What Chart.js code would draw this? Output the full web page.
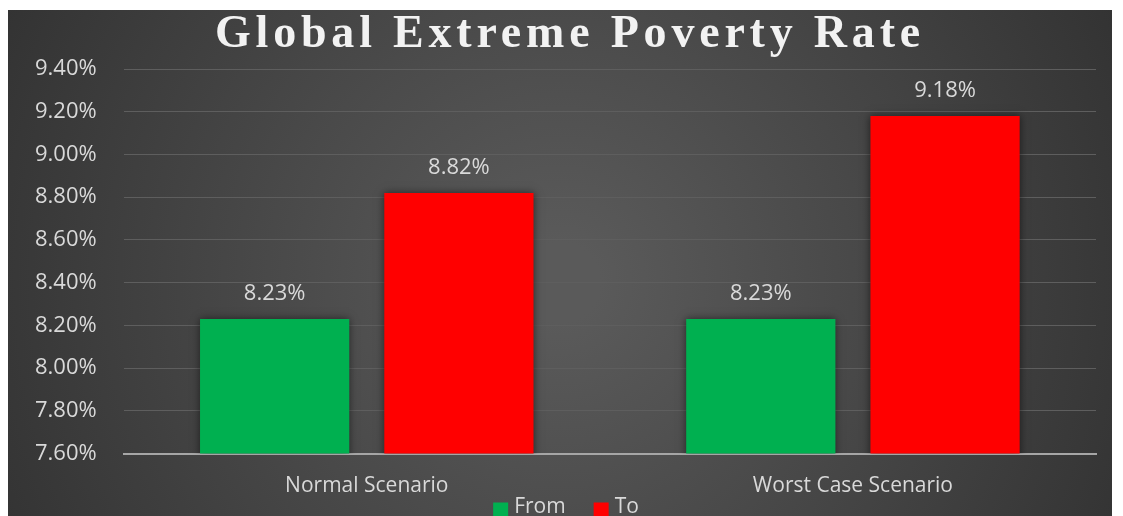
<!DOCTYPE html>
<html>
<head>
<meta charset="utf-8">
<script src="https://cdn.jsdelivr.net/npm/chart.js@4.4.0/dist/chart.umd.min.js"></script>
<style>
  html, body { margin: 0; padding: 0; background: #fff; overflow: hidden; }
  #wrap { position: absolute; left: 8px; top: 10px; width: 1104px; height: 545px; }
</style>
</head>
<body>
<div id="wrap"><canvas id="chart-area"></canvas></div>
<script>
var categories = ['Normal Scenario', 'Worst Case Scenario'];
var fromValues = [8.23, 8.23];
var toValues = [8.82, 9.18];
var seriesNames = ['From', 'To'];
var chartTitle = 'Global Extreme Poverty Rate';

// dark gradient background like the excel theme + spaced out title
var bgPlugin = {
  id: 'bg',
  beforeDraw: function(chart) {
    var ctx = chart.ctx, w = chart.width, h = chart.height;
    var g = ctx.createRadialGradient(w / 2, h / 2, 40, w / 2, h / 2, w * 0.6);
    g.addColorStop(0, '#5a5a5a');
    g.addColorStop(1, '#303030');
    ctx.save();
    ctx.fillStyle = g;
    ctx.fillRect(0, 0, w, h);
    ctx.fillStyle = '#f2f2f2';
    ctx.font = 'bold 46px "Liberation Serif", "DejaVu Serif", serif';
    ctx.letterSpacing = '4.8px';
    ctx.textAlign = 'center';
    ctx.textBaseline = 'alphabetic';
    ctx.fillText(chartTitle, 562, 37);
    ctx.restore();
  }
};

// soft shadow round the bars
var shadowPlugin = {
  id: 'barShadow',
  beforeDatasetsDraw: function(chart) {
    var ctx = chart.ctx;
    ctx.save();
    ctx.shadowColor = 'rgba(0,0,0,0.55)';
    ctx.shadowBlur = 8;
  },
  afterDatasetsDraw: function(chart) {
    chart.ctx.restore();
  }
};

// value labels above the bars
var labelPlugin = {
  id: 'barLabels',
  afterDatasetsDraw: function(chart) {
    var ctx = chart.ctx;
    ctx.save();
    ctx.font = '22px "Open Sans"';
    ctx.fillStyle = '#d9d9d9';
    ctx.textAlign = 'center';
    ctx.textBaseline = 'bottom';
    chart.data.datasets.forEach(function(ds, i) {
      chart.getDatasetMeta(i).data.forEach(function(bar, j) {
        ctx.fillText(ds.data[j].toFixed(2) + '%', bar.x, bar.y - 14);
      });
    });
    ctx.restore();
  }
};

// tight legend just under the category labels (built-in one leaves too much gap)
var legendPlugin = {
  id: 'tightLegend',
  afterDraw: function(chart) {
    var ctx = chart.ctx;
    var axisY = chart.scales.x.top;
    var box = 15, gap = 6, spacing = 28;
    ctx.save();
    ctx.font = '21px "Open Sans"';
    var items = chart.data.datasets.map(function(ds) {
      return { text: ds.label, color: ds.backgroundColor, w: box + gap + ctx.measureText(ds.label).width };
    });
    var total = items.reduce(function(s, it) { return s + it.w; }, 0) + spacing * (items.length - 1);
    var x = 558 - total / 2;
    var y = axisY + 49;
    ctx.textBaseline = 'middle';
    ctx.textAlign = 'left';
    items.forEach(function(it) {
      ctx.fillStyle = it.color;
      ctx.fillRect(x, y, box, box);
      ctx.fillStyle = '#d9d9d9';
      ctx.fillText(it.text, x + box + gap, y + 5);
      x += it.w + spacing;
    });
    ctx.restore();
  }
};

var config = {
  type: 'bar',
  data: {
    labels: categories,
    datasets: [
      { label: seriesNames[0], data: fromValues, backgroundColor: '#00b050', barPercentage: 0.81, categoryPercentage: 0.758 },
      { label: seriesNames[1], data: toValues, backgroundColor: '#ff0000', barPercentage: 0.81, categoryPercentage: 0.758 }
    ]
  },
  options: {
    responsive: true,
    maintainAspectRatio: false,
    animation: false,
    layout: { padding: { left: 0, right: 16, top: 59, bottom: 37 } },
    plugins: {
      title: { display: false },
      legend: { display: false },
      tooltip: { enabled: false }
    },
    scales: {
      x: {
        grid: { display: false, drawTicks: false },
        border: { color: '#a6a6a6', width: 2 },
        ticks: { color: '#d9d9d9', font: { family: '"Open Sans"', size: 21, lineHeight: 0.5 }, padding: 27 }
      },
      y: {
        min: 7.6,
        max: 9.4,
        ticks: {
          stepSize: 0.2,
          color: '#d9d9d9',
          font: { family: '"Open Sans"', size: 22 },
          padding: 27,
          callback: function(v) { return v.toFixed(2) + '%'; }
        },
        grid: { color: '#5e5e5e', drawTicks: false },
        border: { display: false }
      }
    }
  },
  plugins: [bgPlugin, shadowPlugin, labelPlugin, legendPlugin]
};

var ctx = document.getElementById('chart-area').getContext('2d');
window.myBar = new Chart(ctx, config);
</script>
</body>
</html>
